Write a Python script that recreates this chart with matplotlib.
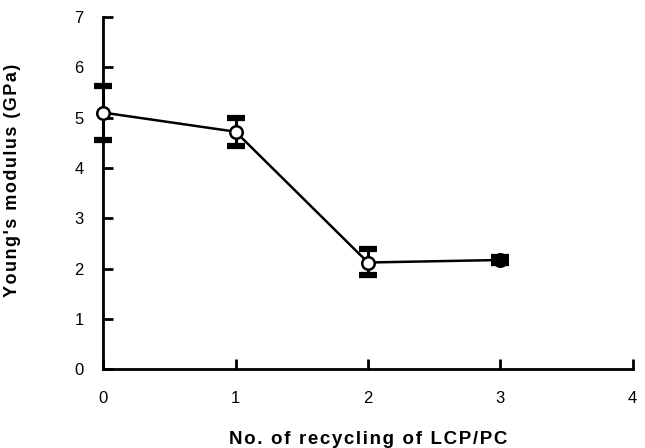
import numpy as np
import matplotlib.pyplot as plt

# datos
ciclos = [0, 1, 2, 3]
modulo = [5.10, 4.72, 2.12, 2.17]
err_inf = [0.55, 0.29, 0.24, 0.05]
err_sup = [0.52, 0.28, 0.26, 0.05]

plt.rcParams['font.family'] = ['Liberation Sans', 'DejaVu Sans']


def espaciar(texto):
    # separacion extra entre letras, como en la figura original
    return "\u200a".join(texto)


fig = plt.figure(figsize=(6.45, 4.48), dpi=100)
ax = fig.add_axes([0.160, 0.176, 0.821, 0.786])

linea, caps, barras = ax.errorbar(ciclos, modulo, yerr=[err_inf, err_sup], color='black',
                                  linewidth=1.8, elinewidth=2.2, capsize=7,
                                  marker='o', markersize=9, markerfacecolor='white',
                                  markeredgecolor='black', markeredgewidth=1.8, zorder=3)
linea.set_clip_on(False)
for cap in caps:
    cap.set_clip_on(False)
    cap.set_marker('s')
    cap.set_markersize(1)
    cap.set_markeredgewidth(0)
for barra in barras:
    barra.set_clip_on(False)

# tapas gruesas de las barras de error
sup = np.array(modulo) + np.array(err_sup)
inf = np.array(modulo) - np.array(err_inf)
for y in (sup, inf):
    ax.plot(ciclos, y, linestyle='none', marker='_', markersize=13,
            markeredgewidth=4.5, color='black', clip_on=False, zorder=4)

ax.set_xlim(0, 4)
ax.set_ylim(0, 7)
ax.set_xticks([0, 1, 2, 3, 4])
ax.set_yticks(range(0, 8))

for lado in ['top', 'right']:
    ax.spines[lado].set_visible(False)
for lado in ['left', 'bottom']:
    ax.spines[lado].set_linewidth(2)

ax.tick_params(axis='both', direction='in', length=7, width=2, labelsize=12)
ax.tick_params(axis='y', pad=14)
ax.tick_params(axis='x', pad=16)

ax.set_xlabel(espaciar("No. of recycling of LCP/PC"), fontsize=13.5, fontweight='bold', labelpad=18)
ax.set_ylabel(espaciar("Young's modulus (GPa)"), fontsize=13, fontweight='bold')
ax.yaxis.set_label_coords(-0.155, 0.535)

fig.savefig('out.png', dpi=100)
